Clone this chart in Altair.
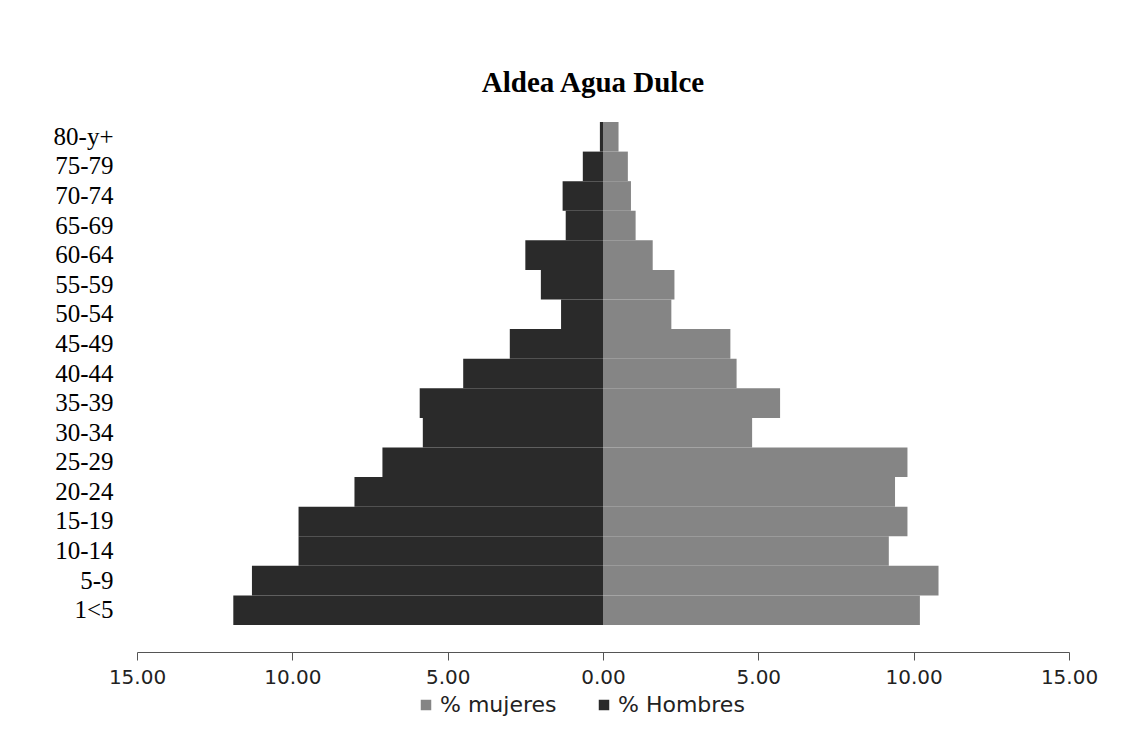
import altair as alt
import pandas as pd

grupos = ["80-y+", "75-79", "70-74", "65-69", "60-64", "55-59", "50-54", "45-49",
          "40-44", "35-39", "30-34", "25-29", "20-24", "15-19", "10-14", "5-9", "1<5"]
hombres = [0.1, 0.65, 1.3, 1.2, 2.5, 2.0, 1.35, 3.0, 4.5, 5.9, 5.8, 7.1, 8.0, 9.8, 9.8, 11.3, 11.9]
mujeres = [0.5, 0.8, 0.9, 1.05, 1.6, 2.3, 2.2, 4.1, 4.3, 5.7, 4.8, 9.8, 9.4, 9.8, 9.2, 10.8, 10.2]
series = ["% mujeres", "% Hombres"]
colores = ["#858585", "#2a2a2a"]
x_ticks = [-15, -10, -5, 0, 5, 10, 15]

rows = []
for g, h, m in zip(grupos, hombres, mujeres):
    rows.append({"grupo": g, "serie": "% Hombres", "valor": -h})
    rows.append({"grupo": g, "serie": "% mujeres", "valor": m})
df = pd.DataFrame(rows)

chart = alt.Chart(df).mark_bar().encode(
    y=alt.Y("grupo:N", sort=grupos, title=None,
            scale=alt.Scale(paddingInner=0, paddingOuter=0),
            axis=alt.Axis(domain=False, ticks=False, labelFont="Liberation Serif",
                          labelFontSize=25, labelColor="#000", labelPadding=24,
                          labelAlign="right")),
    x=alt.X("valor:Q", title=None,
            scale=alt.Scale(domain=[-15, 15], nice=False),
            axis=alt.Axis(values=x_ticks, grid=False, offset=27, tickSize=8,
                          labelExpr="format(abs(datum.value), '.2f')",
                          labelFont="DejaVu Sans", labelFontSize=20, labelColor="#222",
                          labelPadding=7, domainColor="#555", tickColor="#555",
                          labelFlush=False)),
    color=alt.Color("serie:N", scale=alt.Scale(domain=series, range=colores),
                    legend=alt.Legend(title=None, orient="none", legendX=278, legendY=572,
                                      direction="horizontal",
                                      symbolType="square", symbolSize=110,
                                      symbolStrokeWidth=0, labelFont="DejaVu Sans",
                                      labelFontSize=22, labelColor="#222",
                                      columnPadding=36, labelOffset=3)),
).properties(
    width=932,
    height=503,
    title=alt.TitleParams("Aldea Agua Dulce", font="Liberation Serif", fontSize=29,
                          fontWeight="bold", color="#000", offset=24, anchor="middle",
                          dx=-10),
    autosize=alt.AutoSizeParams(type="none"),
    padding={"left": 129, "top": 114, "right": 40, "bottom": 100},
).configure_view(stroke=None)

chart.save("out.html", embed_options={"renderer": "svg", "actions": False})
